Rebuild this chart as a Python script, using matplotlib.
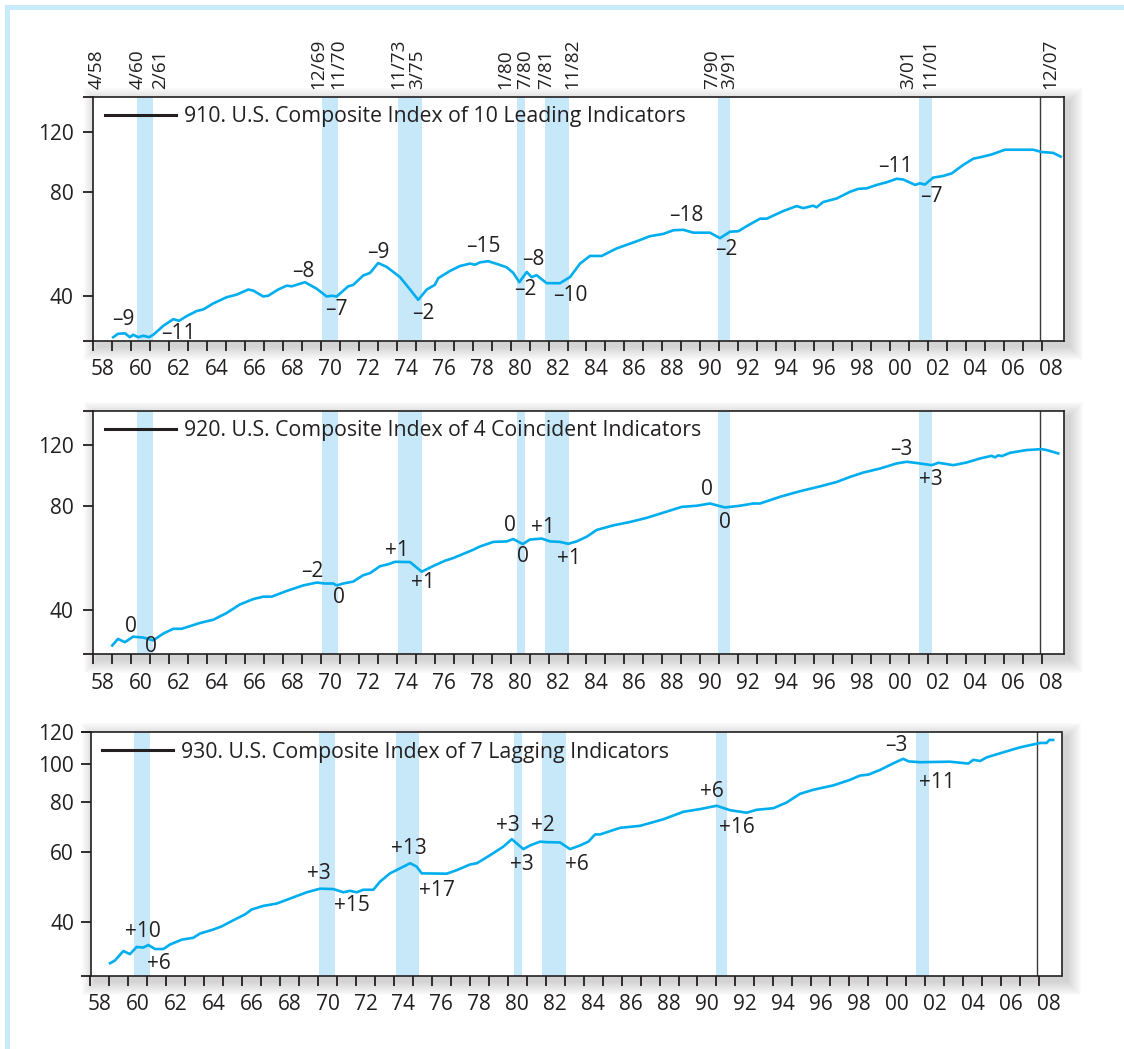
import matplotlib
matplotlib.use('Agg')
import matplotlib.pyplot as plt
from matplotlib.patches import Rectangle
from matplotlib.lines import Line2D
from matplotlib.ticker import FixedLocator, NullFormatter, FixedFormatter

plt.rcParams['font.family'] = ['Open Sans', 'DejaVu Sans']

# ---------------- data ----------------
lead_years = [1959.05, 1959.3, 1959.67, 1959.93, 1960.1, 1960.37, 1960.64, 1960.94, 1961.16, 1961.69,
              1962.22, 1962.52, 1962.92, 1963.45, 1963.8, 1964.33, 1965.03, 1965.56, 1966.17, 1966.43,
              1966.96, 1967.22, 1967.75, 1968.2, 1968.46, 1969.16, 1969.78, 1970.3, 1970.57, 1970.83,
              1971.44, 1971.7, 1972.23, 1972.59, 1973.02, 1973.47, 1974.17, 1974.7, 1975.13, 1975.58,
              1976.0, 1976.19, 1976.8, 1977.33, 1977.86, 1978.12, 1978.38, 1978.82, 1979.27, 1979.79,
              1980.14, 1980.46, 1980.85, 1981.11, 1981.37, 1981.9, 1982.6, 1983.13, 1983.66, 1984.18,
              1984.8, 1985.59, 1986.65, 1987.35, 1988.05, 1988.58, 1989.1, 1989.63, 1990.51, 1991.04,
              1991.57, 1992.0, 1992.44, 1993.15, 1993.5, 1994.37, 1995.08, 1995.43, 1995.95, 1996.13,
              1996.48, 1997.19, 1997.89, 1998.33, 1998.77, 1999.3, 1999.83, 2000.35, 2000.7, 2001.32,
              2001.58, 2001.84, 2002.28, 2002.81, 2003.25, 2003.86, 2004.39, 2004.83, 2005.36, 2005.62,
              2006.06, 2007.55, 2007.99, 2008.6, 2009.0]
lead_values = [30.3, 31.0, 31.1, 30.3, 30.8, 30.3, 30.6, 30.3, 30.8, 32.7,
               34.2, 33.8, 34.9, 36.1, 36.5, 38.0, 39.6, 40.3, 41.7, 41.4,
               39.8, 40.0, 41.7, 42.8, 42.6, 43.8, 41.9, 39.8, 40.0, 39.8,
               42.6, 43.0, 45.8, 46.6, 49.8, 48.5, 45.3, 41.7, 38.9, 41.7,
               43.0, 45.0, 47.2, 48.8, 49.6, 49.2, 50.0, 50.4, 49.5, 48.4,
               46.6, 43.8, 46.9, 45.3, 45.9, 43.5, 43.5, 45.3, 49.6, 52.2,
               52.2, 54.9, 57.6, 59.6, 60.5, 62.0, 62.2, 61.0, 61.0, 58.8,
               61.4, 61.6, 63.7, 67.0, 67.0, 70.5, 72.9, 71.9, 73.1, 72.3,
               74.9, 76.7, 80.2, 81.8, 82.1, 84.0, 85.5, 87.5, 87.1, 84.0,
               84.9, 84.2, 88.2, 89.2, 90.7, 96.0, 100.1, 101.3, 103.0, 104.2,
               106.3, 106.3, 104.7, 104.1, 101.5]

coin_years = [1959.0, 1959.3, 1959.67, 1960.1, 1960.64, 1961.16, 1961.69, 1962.22, 1962.66, 1963.62,
              1964.33, 1965.03, 1965.73, 1966.43, 1966.96, 1967.4, 1968.2, 1969.07, 1969.78, 1970.21,
              1970.65, 1970.83, 1971.18, 1971.7, 1972.23, 1972.59, 1973.11, 1973.55, 1973.9, 1974.7,
              1975.31, 1975.93, 1976.54, 1976.98, 1978.03, 1978.38, 1979.09, 1979.79, 1980.14, 1980.64,
              1981.02, 1981.64, 1982.08, 1982.6, 1983.04, 1983.48, 1984.01, 1984.54, 1985.41, 1986.29,
              1987.17, 1988.05, 1989.02, 1989.81, 1990.51, 1991.3, 1992.09, 1992.79, 1993.15, 1994.2,
              1995.25, 1996.31, 1997.19, 1997.89, 1998.6, 1999.48, 2000.35, 2000.88, 2001.58, 2002.2,
              2002.55, 2003.34, 2004.05, 2004.75, 2005.36, 2005.54, 2005.71, 2005.9, 2006.33, 2007.21,
              2008.0, 2008.26, 2008.87]
coin_values = [31.5, 32.9, 32.2, 33.4, 33.2, 32.6, 34.1, 35.2, 35.2, 36.6,
               37.4, 39.1, 41.4, 42.9, 43.6, 43.6, 45.3, 47.0, 47.9, 47.6,
               47.6, 47.0, 47.6, 48.2, 50.3, 51.0, 53.4, 54.1, 55.0, 54.9,
               51.5, 53.5, 55.4, 56.4, 59.6, 60.9, 62.8, 63.0, 64.0, 61.9,
               63.8, 64.2, 63.0, 62.8, 62.0, 63.0, 65.0, 68.0, 70.1, 71.7,
               73.7, 76.3, 79.3, 79.9, 81.1, 79.0, 79.9, 81.1, 81.1, 84.8,
               88.0, 90.9, 93.6, 96.8, 99.7, 102.4, 105.9, 107.1, 105.9, 104.7,
               106.4, 104.7, 106.6, 109.5, 111.4, 110.3, 111.8, 111.2, 113.7, 115.8,
               116.5, 115.8, 113.2]

lag_years = [1959.03, 1959.29, 1959.73, 1960.08, 1960.43, 1960.79, 1961.05, 1961.4, 1961.84, 1962.19,
             1962.81, 1963.42, 1963.77, 1964.48, 1964.92, 1965.53, 1966.15, 1966.5, 1967.11, 1967.82,
             1968.52, 1969.4, 1970.1, 1970.8, 1971.33, 1971.68, 1972.03, 1972.38, 1972.91, 1973.26,
             1973.79, 1974.85, 1975.2, 1975.46, 1976.78, 1977.31, 1978.01, 1978.37, 1979.07, 1979.77,
             1980.21, 1980.82, 1981.17, 1981.7, 1982.05, 1982.75, 1983.28, 1983.81, 1984.25, 1984.6,
             1984.86, 1985.92, 1986.97, 1988.2, 1989.25, 1990.13, 1991.01, 1991.72, 1992.59, 1993.12,
             1994.0, 1994.7, 1995.4, 1996.1, 1997.15, 1998.04, 1998.57, 1999.01, 1999.63, 2000.33,
             2000.85, 2001.12, 2001.73, 2003.31, 2004.28, 2004.54, 2004.9, 2005.25, 2006.31, 2007.01,
             2008.07, 2008.41, 2008.55, 2008.75]
lag_values = [31.5, 32.0, 33.8, 33.2, 34.6, 34.5, 35.0, 34.2, 34.2, 35.1,
              36.1, 36.5, 37.4, 38.3, 39.0, 40.4, 41.8, 43.0, 43.9, 44.5,
              45.8, 47.5, 48.5, 48.4, 47.5, 47.9, 47.5, 48.2, 48.2, 50.5,
              53.0, 56.2, 55.1, 53.0, 52.9, 54.0, 55.8, 56.2, 58.9, 61.9,
              64.6, 61.0, 62.3, 63.7, 63.5, 63.4, 61.0, 62.3, 63.7, 66.4,
              66.4, 69.0, 69.8, 72.5, 75.7, 76.9, 78.4, 76.4, 75.3, 76.6,
              77.3, 79.9, 84.0, 86.0, 88.2, 91.1, 93.4, 93.9, 96.5, 100.3,
              102.9, 101.4, 100.9, 101.2, 100.1, 102.3, 101.6, 103.8, 107.5, 110.0,
              112.8, 112.8, 114.8, 114.8]

# recession shading (as drawn) and the business-cycle date labels above the chart
recession_start = [1960.30, 1970.04, 1974.08, 1980.32, 1981.81, 1990.95, 2001.53]
recession_end = [1961.15, 1970.88, 1975.31, 1980.76, 1983.07, 1991.56, 2002.21]
current_peak = 2007.90
date_labels = ['4/58', '4/60', '2/61', '12/69', '11/70', '11/73', '3/75', '1/80', '7/80',
               '7/81', '11/82', '7/90', '3/91', '3/01', '11/01', '12/07']
date_label_x = [1958.18, 1960.32, 1961.52, 1969.86, 1970.94, 1974.08, 1975.09, 1979.71, 1980.76,
                1981.85, 1983.23, 1990.60, 1991.50, 2000.94, 2002.15, 2008.48]

# lead / lag annotations
lead_ann = ['–9', '–11', '–8', '–7', '–9', '–2', '–15', '–2', '–8', '–10', '–18', '–2', '–11', '–7']
lead_ann_x = [1959.58, 1962.48, 1969.07, 1970.83, 1973.02, 1975.4, 1978.56, 1980.76, 1981.19,
              1983.13, 1989.28, 1991.39, 2000.3, 2002.16]
lead_ann_y = [34.2, 31.1, 47.2, 36.4, 53.4, 35.5, 55.5, 41.7, 51.0, 40.0, 68.6, 54.6, 95.2, 77.6]

coin_ann = ['0', '0', '–2', '0', '+1', '+1', '0', '0', '+1', '+1', '0', '0', '–3', '+3']
coin_ann_x = [1959.97, 1961.03, 1969.55, 1970.93, 1974.0, 1975.4, 1979.99, 1980.67, 1981.69,
              1983.09, 1990.37, 1991.3, 2000.61, 2002.14]
coin_ann_y = [35.8, 31.2, 51.4, 43.4, 59.3, 48.0, 70.1, 57.0, 69.0, 56.4, 89.1, 71.7, 116.5, 95.3]

lag_ann = ['+10', '+6', '+3', '+15', '+13', '+17', '+3', '+3', '+2', '+6', '+6', '+16', '–3', '+11']
lag_ann_x = [1960.75, 1961.63, 1970.06, 1971.77, 1974.8, 1976.25, 1980.02, 1980.73, 1981.84,
             1983.63, 1990.75, 1992.06, 2000.46, 2002.64]
lag_ann_y = [37.8, 31.5, 53.1, 44.0, 61.3, 48.0, 69.8, 55.8, 69.8, 55.8, 85.3, 69.0, 111.1, 89.8]

titles = ['910. U.S. Composite Index of 10 Leading Indicators',
          '920. U.S. Composite Index of 4 Coincident Indicators',
          '930. U.S. Composite Index of 7 Lagging Indicators']
yticks_main = [40, 80, 120]
yticks_lag = [40, 60, 80, 100, 120]
xtick_years = list(range(1958, 2009))
xlabel_years = list(range(1958, 2009, 2))
xlabels = ['%02d' % (y % 100) for y in xlabel_years]

# ---------------- style ----------------
W, H = 1124, 1049
DARK = '#231f20'
LINE = '#00aeef'
BAND = '#c6e8f8'
FS = 15
FS_LEG = 15.3
FS_DATE = 13.7

fig = plt.figure(figsize=(W / 100, H / 100), dpi=100)
fig.patch.set_facecolor('white')


def px_rect(l, t, r, b):
    return [l / W, 1 - b / H, (r - l) / W, (b - t) / H]


# light blue page frame (top & left)
fig.patches.append(Rectangle((5 / W, 1 - 10 / H), 1, 5 / H, transform=fig.transFigure,
                             facecolor='#c9eaf9', edgecolor='none', zorder=-5))
fig.patches.append(Rectangle((5 / W, 0), 5 / W, 1 - 5 / H, transform=fig.transFigure,
                             facecolor='#c9eaf9', edgecolor='none', zorder=-5))

panels = [
    dict(px=(93.3, 97.3, 1064.3, 340.7), x=lead_years, y=lead_values, ylim=(29.6, 151.0),
         yt=yticks_main, ann=(lead_ann, lead_ann_x, lead_ann_y), title=titles[0], ypad=7.2,
         leg=(0.012, 0.920)),
    dict(px=(93.3, 410.7, 1064.3, 654.3), x=coin_years, y=coin_values, ylim=(29.7, 150.5),
         yt=yticks_main, ann=(coin_ann, coin_ann_x, coin_ann_y), title=titles[1], ypad=7.2,
         leg=(0.012, 0.917)),
    dict(px=(90.5, 731.7, 1061.5, 975.7), x=lag_years, y=lag_values, ylim=(29.3, 120.4),
         yt=yticks_lag, ann=(lag_ann, lag_ann_x, lag_ann_y), title=titles[2], ypad=4.8,
         leg=(0.0118, 0.9156)),
]

axes = []
for p in panels:
    l, t, r, b = p['px']
    # soft drop shadow, offset to the lower right
    n = 14
    for i in range(n):
        g = n - i
        fig.patches.append(Rectangle(((l + 5 - g) / W, 1 - (b + 5 + g) / H), (r - l + 2 * g) / W,
                                     (b - t + 2 * g) / H, transform=fig.transFigure,
                                     facecolor='#606060', edgecolor='none', alpha=0.02, zorder=-2))
    ax = fig.add_axes(px_rect(l, t, r, b))
    axes.append(ax)
    ax.set_facecolor('white')
    ax.set_yscale('log')
    ax.set_xlim(1958, 2009.19)
    ax.set_ylim(*p['ylim'])

    for s0, s1 in zip(recession_start, recession_end):
        ax.axvspan(s0, s1, color=BAND, lw=0, zorder=1)
    ax.axvline(current_peak, color='#3a3a3a', lw=1.0, zorder=2)
    ax.plot(p['x'], p['y'], color=LINE, lw=1.9, zorder=3, solid_joinstyle='round')

    for txt, xx, yy in zip(*p['ann']):
        ax.text(xx, yy, txt, fontsize=FS, color=DARK, ha='center', va='center', zorder=4)

    h = Line2D([], [], color=DARK, lw=2.2)
    ax.legend([h], [p['title']], loc='center left', bbox_to_anchor=p['leg'], frameon=False,
              handlelength=3.35, handletextpad=0.37, borderaxespad=0, borderpad=0,
              fontsize=FS_LEG, labelcolor=DARK)

    # x axis
    ax.xaxis.set_major_locator(FixedLocator(xtick_years))
    ax.xaxis.set_major_formatter(NullFormatter())
    ax.xaxis.set_minor_locator(FixedLocator([y + 0.5 for y in xlabel_years]))
    ax.xaxis.set_minor_formatter(FixedFormatter(xlabels))
    ax.tick_params(axis='x', which='major', length=7, width=1.3, color=DARK, direction='out')
    ax.tick_params(axis='x', which='minor', length=0, pad=13.5, labelsize=FS, labelcolor=DARK)
    # y axis
    ax.yaxis.set_major_locator(FixedLocator(p['yt']))
    ax.yaxis.set_major_formatter(FixedFormatter([str(v) for v in p['yt']]))
    ax.yaxis.set_minor_locator(FixedLocator(list(p['ylim'])))
    ax.yaxis.set_minor_formatter(NullFormatter())
    ax.tick_params(axis='y', which='both', length=7, width=1.3, color=DARK, direction='out',
                   pad=p['ypad'], labelsize=FS, labelcolor=DARK)
    for sp in ax.spines.values():
        sp.set_color(DARK)
        sp.set_linewidth(1.2)

# business-cycle dates above the top panel
ax0 = axes[0]
for lab, xx in zip(date_labels, date_label_x):
    ax0.annotate(lab, xy=(xx, 1), xycoords=ax0.get_xaxis_transform(), xytext=(0, 6.0),
                 textcoords='offset points', rotation=90, ha='center', va='bottom',
                 fontsize=FS_DATE, color=DARK, annotation_clip=False)

fig.savefig('out.png', dpi=100)
